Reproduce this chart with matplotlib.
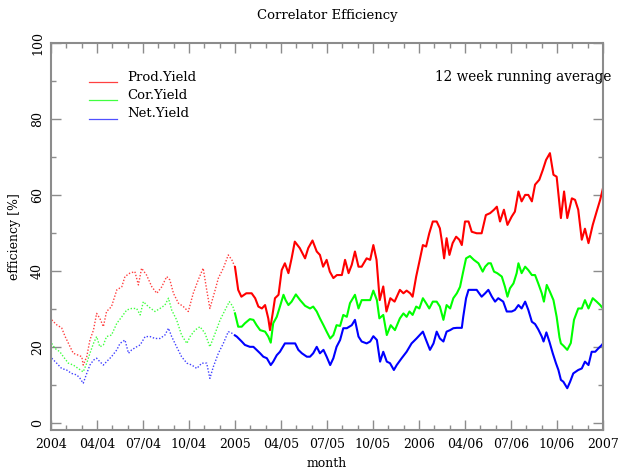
import numpy as np
import matplotlib
matplotlib.use('Agg')
import matplotlib.pyplot as plt
from matplotlib.ticker import MultipleLocator

plt.rcParams['font.family'] = ['DejaVu Serif']
plt.rcParams['font.size'] = 9

# weeks since 1 Jan 2004, 12 week running average [%]
prod_weeks = [0.2, 1.6, 3.0, 4.0, 5.4, 6.3, 7.7, 8.7, 9.1, 10.1,
              11.0, 12.0, 12.9, 13.8, 14.8, 15.7, 17.1, 18.6, 20.0, 20.9,
              22.3, 23.7, 24.7, 25.6, 27.0, 28.5, 29.9, 31.3, 32.7, 33.6,
              34.6, 36.0, 37.4, 38.8, 40.2, 41.6, 43.0, 44.0, 44.9, 46.4,
              47.3, 48.7, 50.1, 51.1, 52.0,
              52.9, 53.8, 55.2, 56.7, 57.7, 58.6, 59.6, 60.5, 61.4, 61.9,
              62.8, 63.3, 64.3, 65.2, 66.1, 67.1, 68.0, 68.9, 70.3, 71.8,
              72.7, 73.9, 75.1, 76.0, 76.9, 77.9, 78.8, 79.8, 80.8, 82.2,
              83.1, 84.1, 85.0, 85.9, 86.9, 87.8, 89.2, 90.2, 91.1, 92.0,
              92.9, 93.9, 94.8, 95.9, 97.1, 98.6,
              99.6, 100.5, 101.5, 102.2, 103.2, 104.1, 105.1, 106.0, 106.9, 107.9,
              109.0, 109.9, 110.4, 111.1, 111.8, 112.6, 113.5, 114.5, 115.4, 116.1,
              117.0, 118.0, 118.9, 120.3, 121.7, 122.9, 124.1, 125.2, 126.0, 126.9,
              128.0, 129.0, 130.2, 131.1, 132.1, 133.0, 134.0, 134.9, 135.9, 136.8,
              138.0, 139.0, 139.9, 141.0, 142.0, 142.9, 144.1, 145.0, 145.9, 147.2,
              148.1, 149.0, 150.0, 150.9, 151.9, 153.1, 154.2, 155.2, 156.0]
prod_yield = [27.1, 25.8, 25.0, 22.7, 20.0, 18.3, 17.8, 17.4, 15.2, 17.4,
              21.8, 24.4, 28.8, 27.5, 25.3, 29.3, 30.6, 35.0, 35.8, 38.5,
              39.4, 39.8, 36.3, 40.7, 38.9, 35.8, 34.1, 35.8, 38.5, 37.6,
              34.1, 31.5, 30.6, 29.3, 34.1, 37.6, 40.7, 35.0, 30.1, 35.0,
              38.1, 40.7, 44.2, 42.9, 41.0,
              35.0, 33.2, 34.1, 34.1, 32.8, 30.6, 30.1, 31.0, 27.5, 24.4,
              29.7, 32.8, 33.7, 40.2, 42.0, 39.4, 43.3, 47.7, 46.0, 43.3,
              46.0, 48.0, 45.1, 44.2, 41.1, 42.9, 39.8, 38.1, 38.9, 38.9,
              42.9, 39.4, 41.6, 45.1, 41.1, 41.1, 43.3, 42.9, 46.8, 42.9,
              32.3, 35.9, 29.3, 32.8, 31.9, 35.0,
              34.1, 34.8, 34.1, 33.2, 38.5, 42.4, 46.8, 46.4, 49.9, 53.0,
              53.0, 51.2, 48.2, 43.3, 48.6, 44.2, 47.3, 49.0, 48.2, 46.8,
              53.0, 53.0, 50.3, 49.9, 49.9, 54.7, 55.2, 56.1, 56.9, 53.0,
              56.1, 52.1, 54.3, 55.6, 60.9, 58.3, 60.0, 60.0, 58.3, 62.7,
              64.0, 66.6, 69.2, 71.0, 65.3, 64.8, 53.9, 60.9, 53.9, 59.1,
              58.7, 56.1, 48.2, 51.1, 47.3, 52.1, 55.6, 58.7, 61.8]

cor_weeks = [0.2, 1.1, 2.5, 3.5, 4.9, 6.3, 7.7, 9.1, 10.1, 11.0,
             12.0, 12.9, 13.8, 14.8, 15.7, 17.1, 18.6, 20.0, 21.4, 22.8,
             24.2, 25.2, 26.1, 27.5, 29.4, 30.8, 32.2, 33.2, 34.1, 35.5,
             36.9, 38.4, 39.3, 40.7, 42.1, 43.5, 44.9, 46.4, 47.8, 49.2,
             50.4, 51.4, 52.0,
             52.9, 53.9, 54.8, 56.2, 57.2, 58.1, 59.1, 60.5, 61.4, 62.1,
             62.8, 63.8, 64.7, 65.7, 66.3, 67.1, 68.0, 69.2, 70.4, 71.8,
             73.2, 74.1, 75.1, 76.0, 77.0, 77.9, 78.9, 79.8, 80.7, 81.7,
             82.6, 83.6, 84.5, 85.9, 86.9, 87.8, 89.2, 90.2, 91.1, 92.1,
             92.8, 93.9, 94.9, 96.0, 97.2, 98.6,
             99.6, 100.5, 101.3, 102.2, 103.2, 104.1, 105.1, 106.0, 106.9, 107.9,
             109.0, 109.9, 110.9, 111.8, 112.8, 113.7, 114.7, 115.6, 116.4, 117.3,
             118.4, 119.5, 120.8, 122.0, 122.7, 123.6, 124.3, 125.2, 126.1, 127.4,
             128.3, 129.0, 129.7, 130.7, 131.6, 132.1, 133.0, 134.0, 134.9, 135.9,
             136.8, 137.7, 138.7, 139.3, 140.1, 141.0, 142.0, 142.9, 143.7, 144.1,
             144.8, 145.9, 146.9, 147.8, 149.0, 150.0, 150.9, 151.9, 153.1, 154.2,
             155.2, 156.0]
cor_yield = [20.9, 19.6, 18.7, 17.4, 15.7, 15.2, 14.3, 13.4, 15.7, 18.3,
             20.9, 22.7, 20.0, 20.5, 22.7, 23.1, 26.2, 27.9, 29.7, 30.1,
             30.1, 28.4, 31.9, 30.6, 29.3, 30.1, 31.0, 32.8, 29.7, 27.1,
             23.1, 20.9, 22.7, 24.4, 25.3, 23.6, 20.0, 23.6, 27.1, 29.7,
             31.9, 30.6, 28.8,
             25.3, 25.3, 26.2, 27.3, 27.1, 25.7, 24.4, 24.0, 22.7, 21.1,
             26.2, 27.9, 30.6, 33.7, 32.3, 31.0, 31.9, 33.8, 32.3, 30.8,
             30.1, 30.6, 29.3, 27.5, 25.7, 24.0, 22.2, 23.1, 25.7, 25.5,
             28.4, 27.9, 31.5, 33.7, 30.1, 32.3, 32.3, 32.3, 34.8, 32.3,
             27.5, 28.4, 23.1, 25.7, 24.4, 27.5,
             28.8, 27.9, 29.3, 28.4, 30.6, 30.1, 32.8, 31.5, 30.1, 31.9,
             31.9, 30.6, 27.1, 31.0, 30.1, 32.8, 34.1, 35.8, 39.4, 43.3,
             43.9, 42.9, 42.0, 39.8, 41.1, 42.0, 42.0, 39.8, 39.4, 38.5,
             35.8, 33.2, 35.4, 36.7, 39.4, 42.0, 39.4, 41.1, 40.2, 38.9,
             38.9, 36.7, 34.1, 31.9, 36.3, 34.5, 32.3, 27.9, 22.5, 20.9,
             20.3, 19.2, 21.0, 27.1, 30.1, 30.1, 32.3, 30.1, 32.8, 31.9,
             31.0, 30.1]

net_weeks = [0.2, 1.6, 3.0, 4.4, 5.8, 7.3, 8.2, 9.1, 10.1, 11.0,
             12.0, 12.9, 13.8, 14.8, 15.7, 17.1, 18.6, 19.5, 20.9, 21.9,
             22.8, 24.2, 25.2, 26.6, 28.0, 29.4, 30.8, 32.2, 33.2, 34.1,
             35.5, 36.9, 38.4, 39.8, 41.2, 42.6, 44.0, 44.9, 45.9, 47.3,
             48.7, 50.1, 51.1, 52.0,
             52.5, 53.9, 54.8, 56.2, 57.2, 58.1, 59.1, 60.0, 61.0, 62.1,
             62.8, 63.8, 64.7, 66.1, 67.6, 69.0, 69.9, 70.9, 72.3, 73.2,
             74.1, 75.1, 76.0, 77.0, 77.9, 78.9, 79.8, 80.7, 81.7, 82.6,
             83.6, 85.0, 85.9, 86.9, 87.8, 89.2, 90.2, 91.1, 92.1, 93.0,
             93.9, 94.9, 95.8, 96.9, 97.7, 99.1,
             100.5, 101.9, 103.3, 105.1, 106.0, 107.1, 108.1, 109.0, 109.9, 110.9,
             111.8, 112.8, 113.7, 114.7, 116.1, 116.5, 117.3, 118.0, 119.2, 120.3,
             121.7, 122.7, 123.6, 124.6, 125.5, 126.4, 127.8, 128.8, 130.2, 131.1,
             132.1, 133.0, 134.0, 134.9, 135.9, 136.8, 137.7, 138.7, 139.2, 140.0,
             140.9, 141.8, 142.7, 143.4, 144.1, 144.8, 145.9, 146.7, 147.6, 149.0,
             150.0, 150.9, 151.9, 152.8, 153.8, 154.7, 155.7, 156.0]
net_yield = [17.0, 15.7, 14.3, 13.9, 13.0, 12.6, 11.7, 10.4, 13.0, 15.2,
             16.5, 17.0, 16.1, 15.2, 16.1, 17.4, 19.2, 20.9, 21.8, 18.3,
             19.2, 20.0, 20.5, 22.7, 22.7, 22.2, 22.2, 23.1, 24.9, 22.7,
             20.0, 17.4, 15.7, 15.2, 14.3, 15.7, 15.7, 11.7, 14.8, 18.3,
             20.9, 24.0, 23.6, 23.0,
             22.7, 21.4, 20.5, 20.0, 20.0, 19.2, 18.3, 17.4, 17.0, 15.2,
             16.1, 17.8, 18.7, 20.9, 20.9, 20.9, 19.2, 18.3, 17.4, 17.4,
             18.3, 20.0, 18.3, 19.2, 17.4, 15.2, 17.0, 20.0, 21.8, 24.9,
             24.9, 25.7, 27.1, 22.7, 21.4, 20.9, 21.4, 22.8, 21.8, 16.1,
             18.7, 16.1, 15.7, 13.9, 15.2, 17.0,
             18.7, 20.9, 22.2, 24.0, 21.8, 19.2, 20.9, 24.0, 22.2, 21.4,
             24.0, 24.4, 24.9, 25.0, 25.0, 27.9, 32.8, 35.0, 35.0, 35.0,
             33.2, 34.1, 35.0, 33.2, 31.9, 32.8, 31.9, 29.3, 29.3, 29.7,
             31.0, 30.1, 31.9, 29.7, 26.6, 26.0, 24.6, 22.7, 21.4, 23.8,
             21.2, 18.3, 15.7, 13.9, 11.3, 10.8, 9.1, 10.8, 13.0, 13.9,
             14.3, 16.1, 15.2, 18.7, 18.7, 19.6, 20.5, 20.9]

series_names = ['Prod.Yield', 'Cor.Yield', 'Net.Yield']
series_colors = ['#ff0000', '#00ff00', '#0000ff']
legend_colors = ['#ff4040', '#40ff40', '#5050ff']

tick_years = [2004 + q / 4.0 for q in range(13)]
tick_labels = ['2004', '04/04', '07/04', '10/04', '2005', '04/05', '07/05',
               '10/05', '2006', '04/06', '07/06', '10/06', '2007']

frame_grey = '#8c8c8c'


def to_year(weeks):
    return 2004 + np.asarray(weeks) / 52.0


fig = plt.figure(figsize=(6.18, 4.71), dpi=100)
ax = fig.add_axes([51 / 618, 41 / 471, 552 / 618, 387 / 471])

data = [(prod_weeks, prod_yield), (cor_weeks, cor_yield), (net_weeks, net_yield)]
for (weeks, vals), color in zip(data, series_colors):
    w = np.array(weeks)
    v = np.array(vals)
    # 2004 drawn dotted, from 2005 on solid
    first = w <= 52
    ax.plot(to_year(w[first]), v[first], color=color, lw=1.0,
            linestyle=(0, (1, 1.3)), alpha=0.75)
    rest = w >= 52
    ax.plot(to_year(w[rest]), v[rest], color=color, lw=1.5)

ax.set_xlim(2004, 2007)
ax.set_ylim(-1.9, 100)
ax.set_xticks(tick_years)
ax.set_xticklabels(tick_labels)
ax.xaxis.set_minor_locator(MultipleLocator(1 / 12.0))
ax.set_yticks([0, 20, 40, 60, 80, 100])
ax.yaxis.set_minor_locator(MultipleLocator(10))

ax.tick_params(which='both', direction='in', top=True, right=True,
               color=frame_grey, width=1.0)
ax.tick_params(which='major', length=7)
ax.tick_params(which='minor', length=3.5)
ax.tick_params(axis='x', pad=6)
ax.tick_params(axis='y', pad=5, labelrotation=90)
for lab in ax.get_yticklabels():
    lab.set_va('center')
for sp in ax.spines.values():
    sp.set_color(frame_grey)
    sp.set_linewidth(1.5)

ax.set_title('Correlator Efficiency', fontsize=9.5, pad=17)
ax.set_xlabel('month', labelpad=4)
ax.set_ylabel('efficiency [%]', labelpad=7)

# key in the top left corner
for i, (name, color) in enumerate(zip(series_names, legend_colors)):
    y = 0.899 - i * 0.0475
    ax.plot([0.069, 0.120], [y, y], color=color, lw=0.9, transform=ax.transAxes)
    ax.text(0.139, y + 0.013, name, fontsize=9.5, ha='left', va='center',
            transform=ax.transAxes)

ax.text(1.016, 0.912, '12 week running average', fontsize=9.8, ha='right',
        va='center', transform=ax.transAxes)

plt.savefig('out.png', dpi=100)
